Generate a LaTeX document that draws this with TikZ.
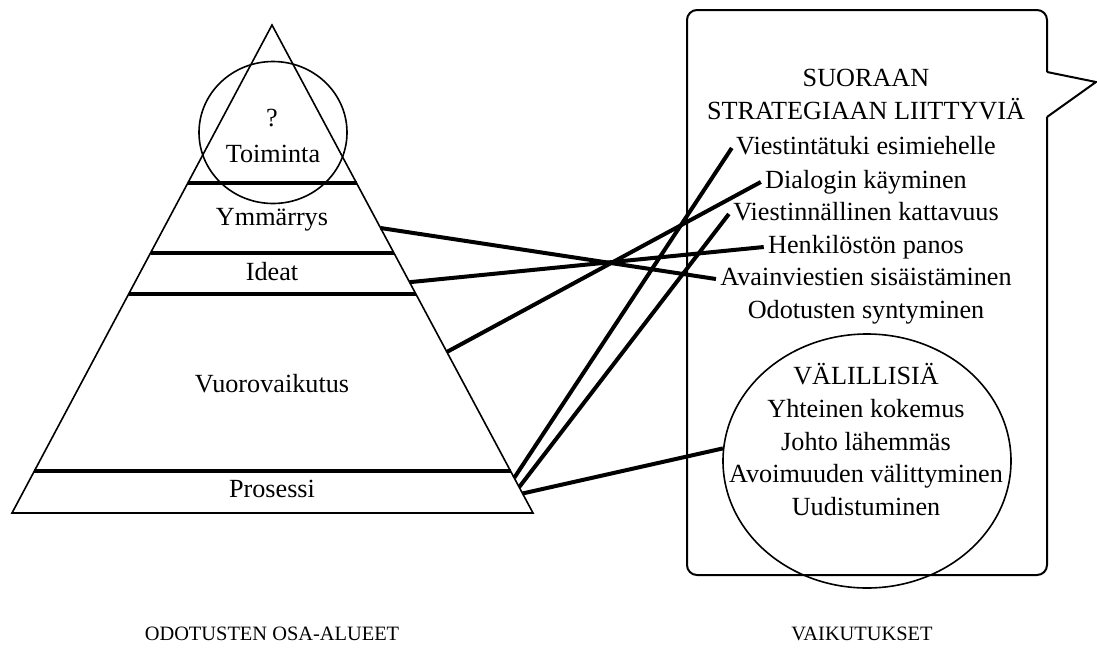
\documentclass[tikz,border=0pt]{standalone}
\usepackage{fontspec}
\setmainfont{Liberation Serif}
\usetikzlibrary{calc,shapes.geometric}
\begin{document}
\begin{tikzpicture}[x=0.5pt,y=-0.5pt,
  lbl/.style={font=\fontsize{13.1}{15}\selectfont, inner sep=2pt,
              text height=9pt, text depth=3pt},
  caption/.style={font=\fontsize{10.2}{12}\selectfont, inner sep=0pt},
  link/.style={line width=2pt},
  band/.style={line width=1.8pt},
  outline/.style={line width=0.8pt},
  ring/.style={draw, ellipse, line width=0.8pt, inner sep=0pt}]
\useasboundingbox (0,0) rectangle (1097,659);

% --- pyramid ---
\coordinate (apex) at (272,25);
\coordinate (bl) at (12,513);
\coordinate (br) at (533,513);
\draw[outline, line join=miter] (apex) -- (br) -- (bl) -- cycle;

% level separators, running edge to edge
\foreach \t/\n in {0.324/a, 0.467/b, 0.551/c, 0.914/d}{
  \draw[band] ($(apex)!\t!(bl)$) -- ($(apex)!\t!(br)$);
}

% circle around the top level
\node[ring, minimum width=74pt, minimum height=71pt] (top) at (273,132.5) {};

% level labels
\node[lbl] (q)    at (272,120) {?};
\node[lbl] (toim) at (273,156) {Toiminta};
\node[lbl] (ymm)  at (272,219) {Ymmärrys};
\node[lbl] (ide)  at (272,274) {Ideat};
\node[lbl] (vuo)  at (272,386) {Vuorovaikutus};
\node[lbl] (pro)  at (272,491) {Prosessi};

% connector start points on the right edge of the pyramid
\coordinate (pYmm) at ($(apex)!0.416!(br)$);
\coordinate (pIde) at ($(apex)!0.527!(br)$);
\coordinate (pVuo) at ($(apex)!0.670!(br)$);
\coordinate (pPr1) at ($(apex)!0.928!(br)$);
\coordinate (pPr2) at ($(apex)!0.947!(br)$);
\coordinate (pPr3) at ($(apex)!0.960!(br)$);

% --- speech bubble ---
\draw[line width=1pt, rounded corners=5pt]
  (1047,72) -- (1047,10) -- (687,10) -- (687,575) -- (1047,575) -- (1047,117);
\draw[line width=1pt, line join=miter] (1047,72) -- (1096,82) -- (1047,117);

% direct effects
\node[lbl] (h1) at (866,80)  {SUORAAN};
\node[lbl] (h2) at (866,113) {STRATEGIAAN LIITTYVIÄ};
\node[lbl] (d1) at (866,148) {Viestintätuki esimiehelle};
\node[lbl] (d2) at (866,182) {Dialogin käyminen};
\node[lbl] (d3) at (866,214) {Viestinnällinen kattavuus};
\node[lbl] (d4) at (866,247) {Henkilöstön panos};
\node[lbl] (d5) at (866,279) {Avainviestien sisäistäminen};
\node[lbl] (d6) at (866,312) {Odotusten syntyminen};

% indirect effects
\node[ring, minimum width=144pt, minimum height=127pt] (ind) at (867,461) {};
\node[lbl] (i0) at (866,378) {VÄLILLISIÄ};
\node[lbl] (i1) at (866,411) {Yhteinen kokemus};
\node[lbl] (i2) at (866,444) {Johto lähemmäs};
\node[lbl] (i3) at (866,476) {Avoimuuden välittyminen};
\node[lbl] (i4) at (866,509) {Uudistuminen};

% --- connectors ---
\draw[link] (pYmm) -- (d5.west);
\draw[link] (pIde) -- (d4.west);
\draw[link] (pVuo) -- (d2.west);
\draw[link] (pPr1) -- (d1.west);
\draw[link] (pPr2) -- (d3.west);
\draw[link] (pPr3) -- (ind.175);

% --- captions ---
\node[caption] (capL) at (272,634) {ODOTUSTEN OSA-ALUEET};
\node[caption] (capR) at (862,634) {VAIKUTUKSET};
\end{tikzpicture}
\end{document}
